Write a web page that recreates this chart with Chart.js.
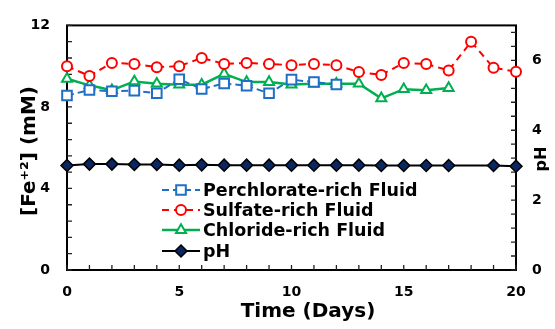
<!DOCTYPE html>
<html>
<head>
<meta charset="utf-8">
<script src="https://cdn.jsdelivr.net/npm/chart.js@4.4.1/dist/chart.umd.min.js"></script>
<style>
html,body{margin:0;padding:0;background:#fff;}
#wrap{width:555px;height:329px;}
</style>
</head>
<body>
<div id="wrap"><canvas id="c" width="555" height="329"></canvas></div>
<script>
// ---- data ----
const days = [0,1,2,3,4,5,6,7,8,9,10,11,12,13,14,15,16,17,18,19,20];
const perchlorate = [8.56,8.83,8.77,8.80,8.67,9.36,8.88,9.15,9.04,8.67,9.34,9.22,9.10];
const sulfate = [10.0,9.52,10.16,10.11,9.95,10.0,10.4,10.11,10.16,10.11,10.05,10.11,10.05,9.71,9.57,10.16,10.11,9.79,11.2,9.92,9.73];
const chloride = [9.38,9.06,8.82,9.25,9.14,9.09,9.09,9.62,9.22,9.22,9.10,9.14,9.14,9.14,8.42,8.87,8.82,8.93];
const ph = [2.99,3.03,3.03,3.02,3.02,3.0,3.01,3.0,3.0,3.0,3.0,3.0,3.0,3.0,2.99,2.99,2.99,2.99,null,2.99,2.97];
const seriesNames = ['Perchlorate-rich Fluid','Sulfate-rich Fluid','Chloride-rich Fluid','pH'];
const xTicks = [0,5,10,15,20];
const yTicks = [0,4,8,12];
const y1Ticks = [0,2,4,6];
const axisTitles = {x:'Time (Days)', y:'[Fe\u207A\u00B2] (mM)', y1:'pH'};

const FONT = 'DejaVu Sans';
Chart.defaults.font.family = FONT;
Chart.defaults.font.weight = 'bold';
Chart.defaults.color = '#000';

function pts(arr){ return arr.map((v,i)=>({x:days[i], y:v})); }

const datasets = [
  {label:seriesNames[0], data:pts(perchlorate), yAxisID:'y', borderColor:'#1F6FC5', backgroundColor:'#fff',
   borderWidth:2, borderDash:[7,4], pointStyle:'rect', pointRadius:6.8, pointBorderWidth:2,
   pointBackgroundColor:'#fff', pointBorderColor:'#1F6FC5', clip:false},
  {label:seriesNames[1], data:pts(sulfate), yAxisID:'y', borderColor:'#FF0000', backgroundColor:'#fff',
   borderWidth:2, borderDash:[7,5], pointStyle:'circle', pointRadius:5, pointBorderWidth:2,
   pointBackgroundColor:'#fff', pointBorderColor:'#FF0000', clip:false},
  {label:seriesNames[2], data:pts(chloride), yAxisID:'y', borderColor:'#00B050', backgroundColor:'#fff',
   borderWidth:2.5, pointStyle:'triangle', pointRadius:5.8, pointBorderWidth:2,
   pointBackgroundColor:'#fff', pointBorderColor:'#00B050', clip:false},
  {label:seriesNames[3], data:pts(ph), yAxisID:'y1', borderColor:'#000', backgroundColor:'#0B2660',
   borderWidth:2, pointStyle:'rectRot', pointRadius:6, pointBorderWidth:1.5,
   pointBackgroundColor:'#0B2660', pointBorderColor:'#000', spanGaps:true, clip:false}
];

function drawText(ctx, text, x, y, size, rot, baseline){
  ctx.save();
  ctx.font = 'bold ' + size + 'px "' + FONT + '"';
  ctx.fillStyle = '#000';
  ctx.translate(x, y);
  if (rot) ctx.rotate(rot);
  ctx.textAlign = 'center';
  ctx.textBaseline = baseline;
  ctx.fillText(text, 0, 0);
  ctx.restore();
}

const decor = {
  id:'decor',
  beforeDatasetsDraw(chart){
    const ctx = chart.ctx, a = chart.chartArea;
    const sx = chart.scales.x, sy = chart.scales.y, sy1 = chart.scales.y1;
    ctx.save();
    ctx.strokeStyle = '#000';
    ctx.lineWidth = 2;
    ctx.strokeRect(a.left, a.top, a.right - a.left, a.bottom - a.top);
    ctx.lineWidth = 1.3;
    ctx.strokeStyle = '#222';
    const TL = 5;
    ctx.beginPath();
    for (let d = 0; d <= 20; d += 1) {
      const px = sx.getPixelForValue(d);
      ctx.moveTo(px, a.bottom); ctx.lineTo(px, a.bottom - TL);
    }
    for (let k = 0; k <= 15; k++) {
      const py = sy.getPixelForValue(k * 0.8);
      ctx.moveTo(a.left, py); ctx.lineTo(a.left + TL, py);
    }
    for (let k = 0; k <= 17; k++) {
      const py = sy1.getPixelForValue(k * 0.4);
      ctx.moveTo(a.right, py); ctx.lineTo(a.right - TL, py);
    }
    ctx.stroke();
    ctx.restore();
  },
  afterDraw(chart){
    const ctx = chart.ctx;
    // axis titles
    drawText(ctx, axisTitles.x, 308, 317, 20, 0, 'alphabetic');
    drawText(ctx, axisTitles.y, 35, 151, 20, -Math.PI/2, 'alphabetic');
    drawText(ctx, axisTitles.y1, 546, 159, 16, -Math.PI/2, 'alphabetic');

    // legend inside the plot
    const rows = [190, 210, 230, 251];
    const x0 = 162, x1 = 200, tx = 203;
    chart.data.datasets.forEach((ds, i) => {
      const y = rows[i];
      ctx.save();
      ctx.strokeStyle = ds.borderColor;
      ctx.lineWidth = ds.borderWidth;
      ctx.setLineDash(ds.borderDash || []);
      ctx.beginPath();
      ctx.moveTo(x0, y); ctx.lineTo(x1, y);
      ctx.stroke();
      ctx.setLineDash([]);
      ctx.fillStyle = ds.pointBackgroundColor;
      ctx.strokeStyle = ds.pointBorderColor;
      ctx.lineWidth = ds.pointBorderWidth;
      Chart.helpers.drawPoint(ctx, {pointStyle: ds.pointStyle, radius: ds.pointRadius, rotation: 0, borderWidth: ds.pointBorderWidth}, (x0 + x1) / 2, y);
      ctx.fillStyle = '#000';
      ctx.font = 'bold 17.5px "' + FONT + '"';
      ctx.textAlign = 'left';
      ctx.textBaseline = 'middle';
      ctx.fillText(ds.label, tx, y + 1);
      ctx.restore();
    });
  }
};

new Chart(document.getElementById('c'), {
  type:'line',
  data:{datasets},
  plugins:[decor],
  options:{
    responsive:false,
    animation:false,
    devicePixelRatio:1,
    layout:{padding:{top:20,left:0,right:0,bottom:0}},
    plugins:{legend:{display:false}, tooltip:{enabled:false}},
    scales:{
      x:{type:'linear', position:'bottom', min:0, max:20,
         grid:{display:false, drawTicks:false}, border:{display:false},
         afterBuildTicks(s){ s.ticks = xTicks.map(v=>({value:v})); },
         afterFit(s){ s.height = 59; },
         ticks:{padding:14, font:{size:14, weight:'bold'}, maxRotation:0}},
      y:{type:'linear', position:'left', min:0, max:12,
         grid:{display:false, drawTicks:false}, border:{display:false},
         afterBuildTicks(s){ s.ticks = yTicks.map(v=>({value:v})); },
         afterFit(s){ s.width = 67; },
         ticks:{padding:17, font:{size:14, weight:'bold'}}},
      y1:{type:'linear', position:'right', min:0, max:7,
         grid:{display:false, drawTicks:false}, border:{display:false},
         afterBuildTicks(s){ s.ticks = y1Ticks.map(v=>({value:v})); },
         afterFit(s){ s.width = 39; },
         ticks:{padding:16, font:{size:14, weight:'bold'}}}
    }
  }
});
</script>
</body>
</html>
